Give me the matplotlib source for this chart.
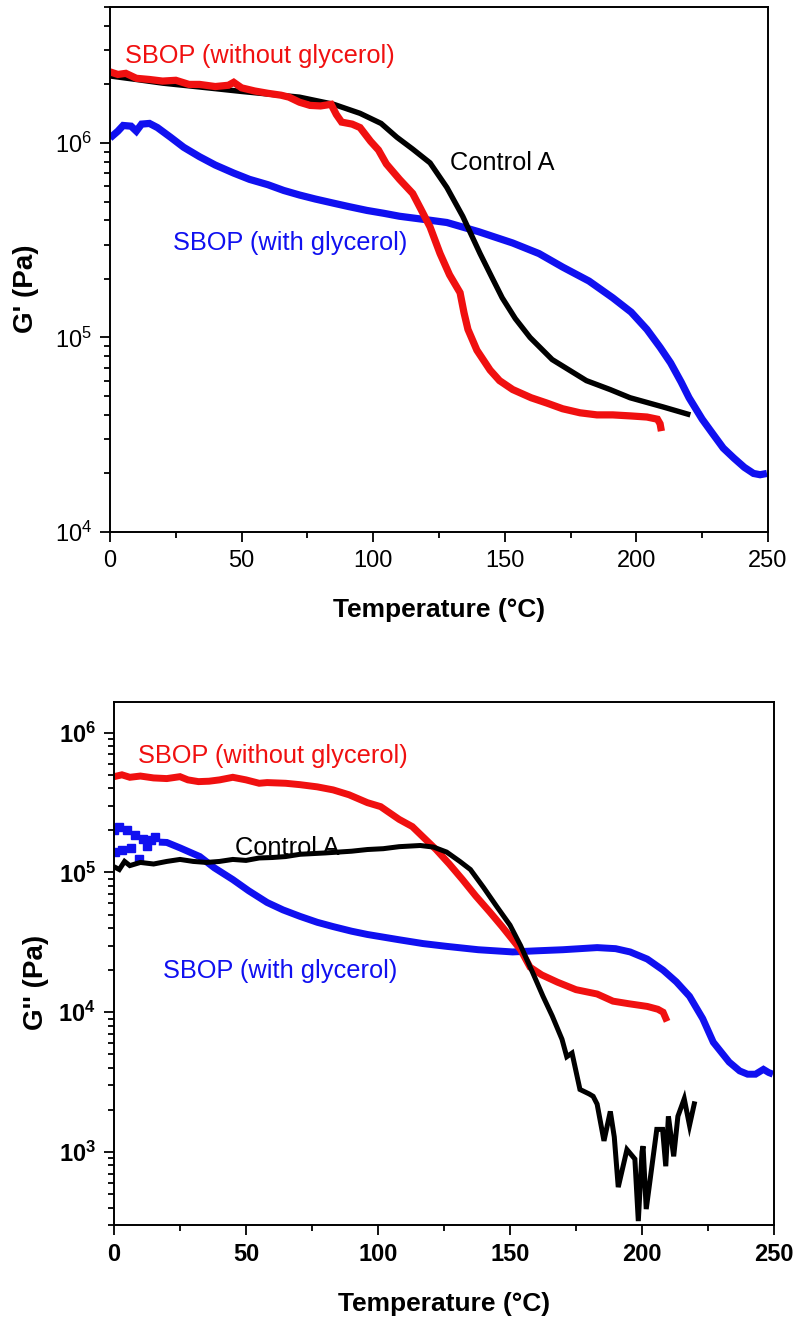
import matplotlib
matplotlib.use("Agg")
import matplotlib.pyplot as plt
from matplotlib.ticker import LogLocator, FuncFormatter, NullFormatter, MultipleLocator
import numpy as np

plt.rcParams['font.family'] = ['Liberation Sans', 'DejaVu Sans']
plt.rcParams['mathtext.fontset'] = 'custom'
plt.rcParams['mathtext.rm'] = 'Liberation Sans'
plt.rcParams['mathtext.bf'] = 'Liberation Sans:bold'
plt.rcParams['mathtext.default'] = 'regular'

# ---------------- Data: G' (storage modulus) ----------------
ctrlA_T_top = [0, 10, 20, 34, 50, 72, 85, 95, 103, 109, 115, 121.6, 128, 134, 140.6, 145, 149, 154,
               159.6, 168, 181, 190, 197.6, 210, 220.5]
ctrlA_G_top = [2.21e6, 2.12e6, 2.03e6, 1.94e6, 1.84e6, 1.72e6, 1.58e6, 1.42e6, 1.26e6, 1.07e6, 9.3e5,
               7.9e5, 5.9e5, 4.2e5, 2.7e5, 2.05e5, 1.6e5, 1.25e5, 1.0e5, 7.7e4, 6.0e4, 5.4e4, 4.9e4,
               4.4e4, 4.0e4]

nogly_T_top = [0, 3, 6, 10, 15, 20, 25, 30, 34, 40, 45, 47, 50, 55, 60, 65, 68, 72, 76, 80, 84, 86, 88,
               92, 95, 99, 102, 105, 110, 115, 118, 121.6, 125.4, 129, 133, 134.5, 136, 139.4, 144.4,
               148, 153, 160, 166, 172, 178.6, 185, 191, 198, 204, 208, 209, 209.5]
nogly_G_top = [2.32e6, 2.25e6, 2.28e6, 2.15e6, 2.12e6, 2.08e6, 2.10e6, 2.00e6, 2.0e6, 1.95e6, 1.98e6,
               2.05e6, 1.92e6, 1.85e6, 1.80e6, 1.76e6, 1.72e6, 1.62e6, 1.56e6, 1.55e6, 1.58e6, 1.40e6,
               1.28e6, 1.25e6, 1.20e6, 1.02e6, 9.2e5, 7.8e5, 6.5e5, 5.5e5, 4.6e5, 3.7e5, 2.7e5, 2.1e5,
               1.7e5, 1.34e5, 1.1e5, 8.6e4, 6.8e4, 6.0e4, 5.4e4, 4.9e4, 4.6e4, 4.3e4, 4.1e4, 4.0e4,
               4.0e4, 3.95e4, 3.9e4, 3.8e4, 3.6e4, 3.3e4]

gly_T_top = [0, 3, 5, 8, 10, 12, 15, 18, 23, 28, 34, 40, 47, 53, 60, 66, 72, 78, 85, 91, 97.6, 104, 110,
             119, 128, 140, 153, 163, 172, 182, 191, 198, 204, 209, 213, 217, 220, 225, 229, 233, 237,
             241, 244.5, 247, 249.6]
gly_G_top = [1.06e6, 1.15e6, 1.23e6, 1.22e6, 1.15e6, 1.25e6, 1.26e6, 1.2e6, 1.07e6, 9.5e5, 8.5e5,
             7.7e5, 7.0e5, 6.5e5, 6.1e5, 5.7e5, 5.4e5, 5.15e5, 4.9e5, 4.7e5, 4.5e5, 4.35e5, 4.2e5,
             4.05e5, 3.9e5, 3.5e5, 3.06e5, 2.7e5, 2.3e5, 1.95e5, 1.6e5, 1.35e5, 1.1e5, 8.9e4, 7.4e4,
             5.9e4, 4.9e4, 3.8e4, 3.2e4, 2.7e4, 2.4e4, 2.15e4, 2.0e4, 1.97e4, 2.0e4]

# ---------------- Data: G'' (loss modulus) ----------------
nogly_T_bot = [0, 3, 6, 10, 15, 20, 25, 28, 32, 36, 40, 45, 50, 55, 58, 65, 70.5, 77, 83, 89, 96, 101,
               108, 113, 117, 122, 127, 132, 137, 142.4, 147, 151, 154, 157.6, 162, 168, 175, 183, 189,
               195, 202, 206, 208, 209.5]
nogly_G_bot = [4.85e5, 5.0e5, 4.8e5, 4.9e5, 4.75e5, 4.7e5, 4.85e5, 4.6e5, 4.47e5, 4.5e5, 4.6e5, 4.8e5,
               4.6e5, 4.35e5, 4.4e5, 4.35e5, 4.25e5, 4.1e5, 3.9e5, 3.6e5, 3.16e5, 2.96e5, 2.4e5, 2.13e5,
               1.8e5, 1.46e5, 1.15e5, 8.9e4, 6.8e4, 5.2e4, 4.1e4, 3.3e4, 2.8e4, 2.1e4, 1.85e4, 1.64e4,
               1.45e4, 1.35e4, 1.2e4, 1.15e4, 1.1e4, 1.05e4, 1.0e4, 8.6e3]

ctrlA_T_bot = [0, 2, 4, 6, 10, 15, 20, 25, 30, 35, 40, 45, 50, 55, 60, 65, 70.5, 80, 90, 96, 102, 108,
               116, 121, 126, 131, 135, 140, 145, 150, 154, 158.7, 162.5, 166, 169.7, 171.5, 173.5,
               176.5, 180, 181.5, 183, 185.6, 188, 189.5, 191, 194.3, 197.3, 198.6, 200, 200.4, 201.6,
               205.6, 207.8, 209, 210, 212, 213.6, 216, 218, 220]
ctrlA_G_bot = [1.1e5, 1.05e5, 1.2e5, 1.12e5, 1.18e5, 1.15e5, 1.2e5, 1.24e5, 1.2e5, 1.18e5, 1.2e5,
               1.24e5, 1.22e5, 1.27e5, 1.28e5, 1.3e5, 1.35e5, 1.38e5, 1.42e5, 1.46e5, 1.48e5, 1.53e5,
               1.56e5, 1.52e5, 1.4e5, 1.2e5, 1.05e5, 7.8e4, 5.7e4, 4.2e4, 3.0e4, 1.9e4, 1.3e4, 9.4e3,
               6.4e3, 4.8e3, 5.1e3, 2.8e3, 2.6e3, 2.5e3, 2.2e3, 1.2e3, 1.95e3, 1.28e3, 5.6e2, 1.04e3,
               8.9e2, 3.2e2, 1.0e3, 1.1e3, 3.9e2, 1.45e3, 1.45e3, 7.9e2, 1.8e3, 9.3e2, 1.8e3, 2.4e3,
               1.55e3, 2.3e3]

# early, scattered part of the glycerol G'' series (drawn as separate squares)
gly_T_bot_scatter = [0, 0.5, 2, 3, 5, 6.5, 8, 9.5, 11, 12.5, 14, 15.5]
gly_G_bot_scatter = [2.0e5, 1.4e5, 2.1e5, 1.45e5, 2.0e5, 1.5e5, 1.85e5, 1.24e5, 1.75e5, 1.55e5,
                     1.72e5, 1.8e5]
# continuous part of the glycerol G'' series
gly_T_bot = [17, 20, 25, 32.5, 38, 45, 51, 58, 64, 70.5, 77,
             83, 90, 96, 108, 117, 126, 138, 151, 160, 170, 183, 190, 195.5, 202, 208, 213, 218, 223,
             227, 233, 237, 240, 243, 246, 248, 249.6]
gly_G_bot = [1.65e5, 1.64e5, 1.5e5, 1.3e5, 1.08e5, 8.9e4, 7.4e4, 6.1e4, 5.4e4, 4.85e4, 4.4e4, 4.1e4,
             3.8e4, 3.6e4, 3.3e4, 3.1e4, 2.96e4, 2.8e4, 2.7e4, 2.75e4, 2.8e4, 2.9e4, 2.85e4, 2.7e4,
             2.4e4, 2.0e4, 1.65e4, 1.3e4, 9.0e3, 6.1e3, 4.4e3, 3.8e3, 3.6e3, 3.6e3, 3.9e3, 3.7e3,
             3.6e3]

label_nogly = "SBOP (without glycerol)"
label_gly = "SBOP (with glycerol)"
label_ctrl = "Control A"
RED = '#f01010'
BLUE = '#1010f0'

W, H = 796, 1319
fig = plt.figure(figsize=(W / 100, H / 100), dpi=100)

def px_axes(l, t, r, b):
    return fig.add_axes([l / W, 1 - b / H, (r - l) / W, (b - t) / H])

ax1 = px_axes(110, 7, 768, 532)
ax2 = px_axes(114, 702, 774, 1225)

def style(ax, bold, ylo, yhi):
    ax.set_yscale('log')
    ax.set_xlim(0, 250)
    ax.set_ylim(ylo, yhi)
    ax.xaxis.set_major_locator(MultipleLocator(50))
    ax.xaxis.set_minor_locator(MultipleLocator(25))
    ax.yaxis.set_major_locator(LogLocator(base=10, numticks=20))
    ax.yaxis.set_minor_locator(LogLocator(base=10, subs=np.arange(2, 10), numticks=20))
    ax.yaxis.set_minor_formatter(NullFormatter())
    if bold:
        fmt = FuncFormatter(lambda v, p: r'$\mathbf{10^{%d}}$' % int(round(np.log10(v))))
    else:
        fmt = FuncFormatter(lambda v, p: r'$10^{%d}$' % int(round(np.log10(v))))
    ax.yaxis.set_major_formatter(fmt)
    ax.tick_params(which='both', direction='out', top=False, right=False, width=1.3, color='black')
    ax.tick_params(which='major', length=7, labelsize=17, pad=6)
    ax.tick_params(which='minor', length=4.5)
    for s in ax.spines.values():
        s.set_linewidth(1.4)

style(ax1, False, 1e4, 5e6)
style(ax2, True, 3e2, 1.66e6)
for lab in ax2.get_xticklabels():
    lab.set_fontweight('bold')

kw = dict(solid_capstyle='butt', solid_joinstyle='miter')
ax1.plot(gly_T_top, gly_G_top, color=BLUE, lw=5.2, **kw)
ax1.plot(ctrlA_T_top, ctrlA_G_top, color='black', lw=3.9, **kw)
ax1.plot(nogly_T_top, nogly_G_top, color=RED, lw=5.2, **kw)

ax2.plot(gly_T_bot, gly_G_bot, color=BLUE, lw=5.0, **kw)
ax2.plot(gly_T_bot_scatter, gly_G_bot_scatter, linestyle='none', marker='s', ms=5.5,
         color=BLUE, mec=BLUE)
ax2.plot(nogly_T_bot, nogly_G_bot, color=RED, lw=5.0, **kw)
ax2.plot(ctrlA_T_bot, ctrlA_G_bot, color='black', lw=3.6, **kw)

ax1.set_xlabel("Temperature (\u00b0C)", fontsize=19, fontweight='bold')
ax1.set_ylabel("G' (Pa)", fontsize=20, fontweight='bold')
ax2.set_xlabel("Temperature (\u00b0C)", fontsize=19, fontweight='bold')
ax2.set_ylabel("G'' (Pa)", fontsize=20, fontweight='bold')
ax1.xaxis.set_label_coords(0.5, -0.125)
ax2.xaxis.set_label_coords(0.5, -0.128)
ax1.yaxis.set_label_coords(-0.108, 0.463)
ax2.yaxis.set_label_coords(-0.098, 0.463)

def ftext(x, y, s, c):
    fig.text(x / W, 1 - y / H, s, color=c, fontsize=18.3, ha='left', va='baseline')

ftext(125, 63, label_nogly, RED)
ftext(450, 170, label_ctrl, 'black')
ftext(173, 250, label_gly, BLUE)
ftext(138, 763, label_nogly, RED)
ftext(235, 855, label_ctrl, 'black')
ftext(163, 978, label_gly, BLUE)

fig.savefig("out.png", dpi=100)
